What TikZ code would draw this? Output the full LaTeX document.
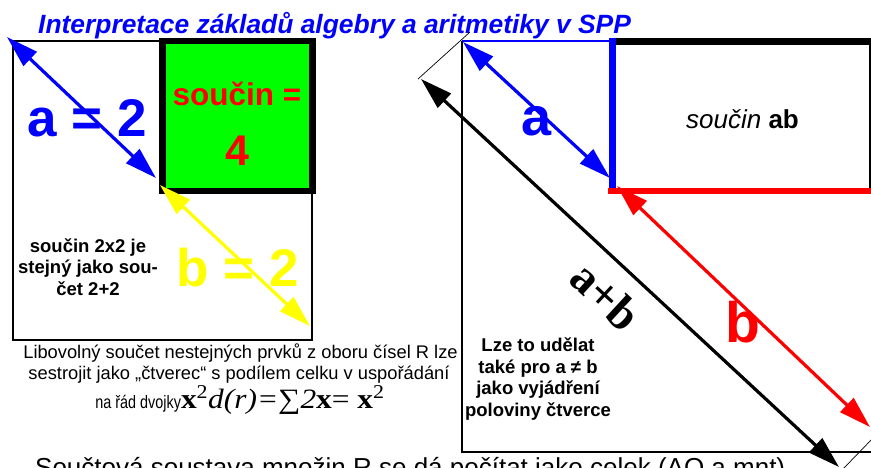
\documentclass[tikz,border=0pt]{standalone}
\usepackage{fontspec}
\setmainfont{Liberation Sans}
\newfontfamily\serifx{Liberation Serif}
\usetikzlibrary{arrows.meta}
\definecolor{pgreen}{RGB}{0,255,0}
\definecolor{pblue}{RGB}{0,0,255}
\definecolor{pred}{RGB}{255,0,0}
\definecolor{pyellow}{RGB}{255,255,0}
\newcommand{\fs}[2]{\fontsize{#1}{#2}\selectfont}
\begin{document}
\begin{tikzpicture}[x=1pt,y=-1pt,
  dbl/.style={line width=3.2pt,{Triangle[length=32pt,width=19pt]}-{Triangle[length=32pt,width=19pt]}},
  thinline/.style={line width=1.2pt},
  hair/.style={line width=0.7pt},
  lbl/.style={inner sep=0pt,anchor=base},
  blk/.style={inner sep=0pt,align=center,font=\bfseries\fs{18.5}{21.5}}
]
\useasboundingbox (0,0) rectangle (871,467);
\begin{scope}
\clip (0,0) rectangle (871,467);
% title
\node[lbl,anchor=base west,text=pblue,font=\bfseries\itshape\fs{26.4}{30}] (title) at (38,33) {Interpretace základů algebry a aritmetiky v SPP};

% ---------- left part
\draw[thinline] (13,41) rectangle (312,340);
\draw[line width=6.6pt,fill=pgreen] (162.5,41) rectangle (312.5,191);
\node[lbl,text=pred,font=\bfseries\fs{31.5}{36}] (soucin) at (237,105) {součin =};
\node[lbl,text=pred,font=\bfseries\fs{43}{48}] (four) at (237.5,165.5) {4};
\node[lbl,text=pblue,font=\bfseries\fs{53}{60}] (aeq) at (87.5,136.5) {a = 2};
\node[lbl,text=pyellow,font=\bfseries\fs{53}{60}] (beq) at (237.5,286) {b = 2};
\coordinate (a1) at (7,37);
\coordinate (a2) at (156,178);
\coordinate (b1) at (160,185);
\coordinate (b2) at (310,326);
\draw[dbl,pblue] (a1) -- (a2);
\draw[dbl,pyellow] (b1) -- (b2);
\node[blk] (note1) at (88,267) {součin 2x2 je\\stejný jako sou-\\čet 2+2};

\node[lbl,font=\fs{18.3}{21}] (cap1) at (240.5,358) {Libovolný součet nestejných prvků z oboru čísel R lze};
\node[lbl,font=\fs{18.3}{21}] (cap2) at (239,379) {sestrojit jako „čtverec“ s podílem celku v uspořádání};
\node[lbl,font=\fs{18}{21}] (cap3) at (240,408) {\scalebox{0.8}[1]{na řád dvojky}\scalebox{1.12}[1]{\serifx\fs{28}{30}\textbf{x}\textsuperscript{2}\textit{d(r)=}∑\textit{2}\textbf{x}= \textbf{x}\textsuperscript{2}}};

% ---------- right part
\draw[thinline] (462,41) -- (462,452) -- (880,452);
\draw[thinline,pblue] (462,41) -- (612,41);
\draw[thinline] (870,41) -- (870,191);
\draw[line width=7pt] (612,41) -- (880,41);
\draw[line width=6pt,pred] (608,191) -- (880,191);
\draw[line width=7pt,pblue] (612,37.5) -- (612,188);
\node[lbl,font=\fs{26}{30}] (prod) at (742.5,128) {\textit{součin} \textbf{ab}};
\node[lbl,text=pblue,font=\bfseries\fs{54}{60}] (alab) at (537,135) {a};

\coordinate (c1) at (463,42);
\coordinate (c2) at (610,178);
\draw[dbl,pblue] (c1) -- (c2);

\coordinate (h1) at (418,79);
\coordinate (h2) at (470,32);
\coordinate (h3) at (843,469);
\coordinate (h4) at (874,437);
\draw[hair] (h1) -- (h2);
\draw[hair] (h3) -- (h4);

\coordinate (s1) at (421,79);
\coordinate (s2) at (839,467);
\draw[dbl,black] (s1) -- (s2);

\coordinate (r1) at (617,186);
\coordinate (r2) at (870,427);
\draw[dbl,pred] (r1) -- (r2);

\node[inner sep=0pt,rotate=-42.7,font=\serifx\bfseries\fs{47}{50}] (apb) at (606,296) {a+b};
\node[lbl,text=pred,font=\bfseries\fs{57}{60}] (blab) at (743,342) {b};
\node[blk] (note2) at (538,379) {Lze to udělat\\také pro a ≠ b\\jako vyjádření\\poloviny čtverce};

% bottom, clipped line
\node[lbl,anchor=base west,font=\fs{26}{30}] (bottom) at (35,476) {Součtová soustava množin R se dá počítat jako celek (AQ a mnt)};
\end{scope}
\end{tikzpicture}
\end{document}
